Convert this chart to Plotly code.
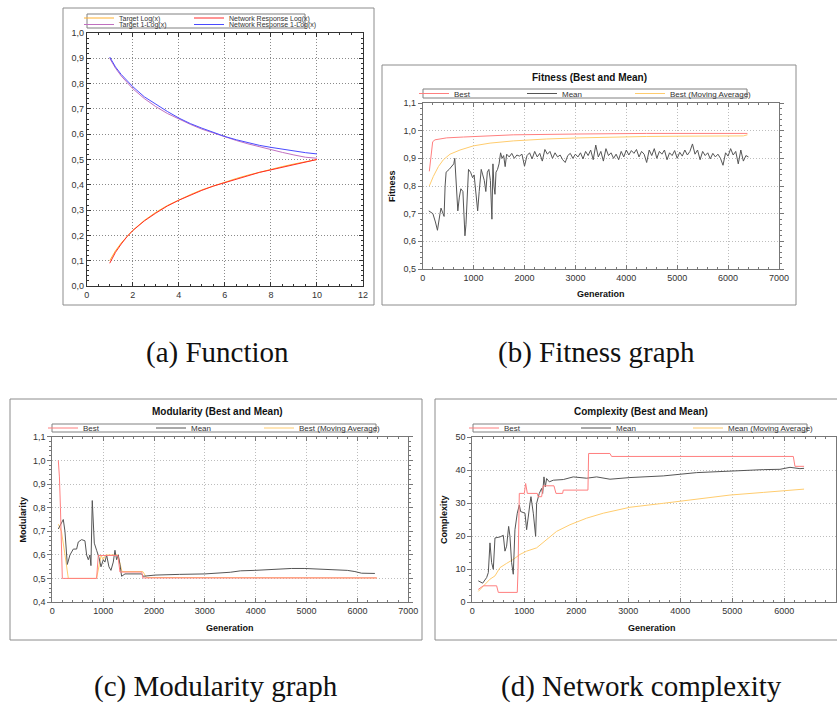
import plotly.graph_objects as go

# ---------------- data ----------------
# (a) Function
func_x = [1.0, 1.25, 1.5, 1.75, 2.0, 2.5, 3.0, 3.5, 4.0, 4.5, 5.0, 5.5, 6.0, 6.5, 7.0, 7.5, 8.0, 8.5, 9.0, 9.5, 10.0]
target_log = [0.100, 0.139, 0.170, 0.197, 0.220, 0.259, 0.291, 0.318, 0.341, 0.361, 0.380, 0.396, 0.411, 0.425, 0.438, 0.450, 0.461, 0.472, 0.482, 0.491, 0.500]
target_1mlog = [0.900, 0.861, 0.830, 0.803, 0.780, 0.741, 0.709, 0.682, 0.659, 0.639, 0.620, 0.604, 0.589, 0.575, 0.562, 0.550, 0.539, 0.528, 0.518, 0.509, 0.505]
net_log = [0.090, 0.133, 0.166, 0.195, 0.219, 0.257, 0.288, 0.316, 0.339, 0.360, 0.378, 0.395, 0.409, 0.423, 0.436, 0.449, 0.459, 0.469, 0.479, 0.490, 0.500]
net_1mlog = [0.905, 0.866, 0.836, 0.810, 0.788, 0.748, 0.718, 0.690, 0.664, 0.642, 0.624, 0.607, 0.591, 0.578, 0.566, 0.556, 0.548, 0.540, 0.533, 0.527, 0.522]

# (b) Fitness
fit_best_gen = [130, 157, 196, 242, 471, 800, 1126, 1781, 3091, 4400, 6380]
fit_best = [0.853, 0.900, 0.960, 0.967, 0.974, 0.977, 0.980, 0.985, 0.988, 0.990, 0.990]
fit_ma_gen = [130, 210, 308, 406, 537, 733, 995, 1323, 1781, 2436, 3091, 3745, 4400, 5055, 5710, 6299, 6380]
fit_ma = [0.800, 0.835, 0.870, 0.895, 0.915, 0.930, 0.945, 0.955, 0.963, 0.970, 0.974, 0.977, 0.979, 0.980, 0.981, 0.981, 0.985]
fit_mean_gen = [120, 200, 250, 290, 340, 360, 400, 420, 440, 460, 520, 580, 610, 630, 660, 690, 720, 750,
                790, 810, 830, 850, 880, 900, 940, 980, 1010, 1040, 1080, 1110, 1150, 1180, 1210, 1240,
                1270, 1300, 1330, 1360, 1380, 1400, 1420, 1440, 1470, 1500, 1530, 1560, 1590, 1620,
                1650, 1700, 1750, 1800, 1850, 1900, 1950, 2000, 2050, 2100, 2150, 2200, 2250, 2300,
                2350, 2400, 2450, 2500, 2550, 2600, 2650, 2700, 2750, 2800, 2850, 2900, 2950, 3000,
                3050, 3100, 3150, 3200, 3250, 3300, 3350, 3400, 3450, 3500, 3550, 3600, 3650, 3700,
                3750, 3800, 3850, 3900, 3950, 4000, 4050, 4100, 4150, 4200, 4250, 4300, 4350, 4400,
                4450, 4500, 4550, 4600, 4650, 4700, 4750, 4800, 4850, 4900, 4950, 5000, 5050, 5100,
                5150, 5200, 5250, 5300, 5350, 5400, 5450, 5500, 5550, 5600, 5650, 5700, 5750, 5800,
                5850, 5900, 5950, 6000, 6050, 6100, 6150, 6200, 6250, 6300, 6350, 6400]
fit_mean = [0.710, 0.700, 0.670, 0.640, 0.700, 0.720, 0.700, 0.690, 0.800, 0.850, 0.860, 0.875, 0.880, 0.900,
            0.800, 0.710, 0.760, 0.790, 0.780, 0.700, 0.620, 0.660, 0.800, 0.860, 0.850, 0.830, 0.840,
            0.780, 0.710, 0.780, 0.860, 0.840, 0.820, 0.780, 0.850, 0.860, 0.820, 0.680, 0.880, 0.800,
            0.770, 0.850, 0.860, 0.880, 0.920, 0.900, 0.910, 0.870,
            0.915, 0.905, 0.918, 0.900, 0.912, 0.908, 0.915, 0.872, 0.910, 0.920, 0.898, 0.925, 0.905, 0.918,
            0.890, 0.932, 0.915, 0.925, 0.900, 0.920, 0.905, 0.912, 0.895, 0.885, 0.910, 0.918, 0.900, 0.915,
            0.905, 0.920, 0.898, 0.925, 0.910, 0.930, 0.895, 0.948, 0.905, 0.925, 0.890, 0.935, 0.910, 0.920,
            0.900, 0.915, 0.895, 0.925, 0.905, 0.930, 0.912, 0.928, 0.918, 0.932, 0.905, 0.925, 0.915, 0.885,
            0.930, 0.910, 0.935, 0.900, 0.925, 0.915, 0.930, 0.895, 0.920, 0.910, 0.928, 0.900, 0.922, 0.908,
            0.930, 0.912, 0.925, 0.952, 0.915, 0.930, 0.895, 0.925, 0.910, 0.920, 0.898, 0.918, 0.905, 0.915,
            0.900, 0.875, 0.920, 0.908, 0.935, 0.912, 0.925, 0.880, 0.930, 0.890, 0.910, 0.905]

# (c) Modularity
mod_best_gen = [118, 140, 160, 197, 871, 904, 1290, 1330, 1760, 1780, 6380]
mod_best = [1.000, 0.930, 0.800, 0.501, 0.501, 0.598, 0.598, 0.528, 0.528, 0.503, 0.503]
mod_ma_gen = [118, 180, 250, 315, 870, 920, 960, 1000, 1050, 1290, 1330, 1370, 1780, 1820, 1850, 6380]
mod_ma = [0.730, 0.700, 0.600, 0.501, 0.501, 0.560, 0.598, 0.580, 0.600, 0.600, 0.560, 0.530, 0.530, 0.512, 0.505, 0.503]
mod_mean_gen = [118, 183, 216, 249, 282, 295, 347, 413, 478, 511, 577, 642, 675, 708, 740, 760, 786, 826,
                871, 917, 957, 1003, 1035, 1068, 1114, 1153, 1199, 1232, 1265, 1297, 1330, 1363, 1429,
                1756, 1789, 2018, 2500, 3001, 3500, 3700, 3984, 4312, 4700, 4967, 5300, 5623, 5800, 5950,
                6081, 6343]
mod_mean = [0.710, 0.740, 0.750, 0.700, 0.600, 0.560, 0.600, 0.625, 0.625, 0.655, 0.665, 0.660, 0.600, 0.580,
            0.600, 0.555, 0.830, 0.650, 0.620, 0.590, 0.550, 0.580, 0.570, 0.600, 0.550, 0.535, 0.570,
            0.620, 0.580, 0.600, 0.560, 0.510, 0.520, 0.520, 0.510, 0.515, 0.518, 0.520, 0.527, 0.533,
            0.535, 0.540, 0.543, 0.543, 0.541, 0.537, 0.535, 0.530, 0.523, 0.522]

# (d) Complexity
cx_best_gen = [115, 212, 468, 500, 865, 880, 904, 1000, 1026, 1058, 1250, 1265, 1333, 1365, 1570, 1609, 1737,
               1750, 2224, 2237, 2647, 2679, 6173, 6205, 6380]
cx_best = [3.9, 5.0, 5.0, 3.0, 3.0, 10.0, 33.0, 33.0, 36.0, 33.0, 33.0, 32.0, 32.0, 35.3, 35.3, 33.0, 33.0,
           34.0, 34.0, 45.1, 45.1, 44.2, 44.2, 41.2, 41.2]
cx_mean_gen = [115, 199, 276, 308, 340, 372, 404, 436, 532, 596, 628, 660, 699, 724, 756, 788, 820, 865, 904,
               929, 1013, 1045, 1109, 1128, 1173, 1218, 1237, 1288, 1333, 1353, 1378, 1404, 1429, 1481,
               1558, 1750, 1942, 2199, 2391, 2647, 3032, 3673, 4314, 4955, 5596, 5917, 6109, 6301, 6380]
cx_mean = [6.5, 5.8, 7.5, 9.0, 18.0, 12.0, 10.0, 19.5, 19.8, 20.3, 15.5, 17.0, 23.0, 20.0, 12.0, 8.5, 22.0,
           27.0, 29.5, 27.5, 27.0, 22.0, 30.0, 32.0, 27.0, 20.0, 30.0, 33.0, 34.5, 33.0, 38.0, 35.0, 37.5,
           36.5, 37.0, 37.2, 38.0, 37.6, 38.0, 37.3, 37.8, 38.3, 39.3, 39.8, 40.2, 40.3, 40.9, 40.5, 40.6]
cx_ma_gen = [115, 212, 340, 436, 532, 660, 788, 917, 1045, 1237, 1429, 1622, 1878, 2199, 2519, 3032, 3673,
             4314, 4955, 5596, 6380]
cx_ma = [3.3, 5.0, 7.0, 8.0, 10.5, 11.8, 13.0, 14.5, 15.5, 16.5, 19.0, 21.5, 23.5, 25.5, 27.0, 28.8, 30.0,
         31.3, 32.5, 33.3, 34.3]

captions = ["(a) Function", "(b) Fitness graph", "(c) Modularity graph", "(d) Network complexity"]
titles = ["Fitness (Best and Mean)", "Modularity (Best and Mean)", "Complexity (Best and Mean)"]
x_titles = ["Generation", "Generation", "Generation"]
y_titles = ["Fitness", "Modularity", "Complexity"]

# ---------------- helpers ----------------
W, H = 837, 704


def fx(p):
    return p / W


def fy(p):
    return 1 - p / H


FONT = "Liberation Sans"
BEST_C = "#ff7f7f"
MEAN_C = "#555555"
MA_C = "#ffcc6e"

fig = go.Figure()


def line(x, y, name, color, xa, ya, legend, rank, lw=None):
    fig.add_trace(go.Scatter(x=x, y=y, name=name, mode="lines",
                             line=dict(color=color, width=1),
                             xaxis=xa, yaxis=ya, legend=legend, legendrank=rank,
                             legendwidth=lw, hoverinfo="skip"))


# (a)
line(func_x, target_log, "Target Log(x)", "#ffb02e", "x", "y", "legend", 1)
line(func_x, net_log, "Network Response Log(x)", "#ff2a2a", "x", "y", "legend", 2, 88)
line(func_x, target_1mlog, "Target 1-Log(x)", "#c070c0", "x", "y", "legend2", 1)
line(func_x, net_1mlog, "Network Response 1-Log(x)", "#4a4aff", "x", "y", "legend2", 2, 88)
# (b)
line(fit_ma_gen, fit_ma, "Best (Moving Average)", MA_C, "x2", "y2", "legend3", 3, 86)
line(fit_best_gen, fit_best, "Best", BEST_C, "x2", "y2", "legend3", 1)
line(fit_mean_gen, fit_mean, "Mean", MEAN_C, "x2", "y2", "legend3", 2)
# (c)
line(mod_ma_gen, mod_ma, "Best (Moving Average)", MA_C, "x3", "y3", "legend4", 3, 86)
line(mod_mean_gen, mod_mean, "Mean", MEAN_C, "x3", "y3", "legend4", 2)
line(mod_best_gen, mod_best, "Best", BEST_C, "x3", "y3", "legend4", 1)
# (d)
line(cx_ma_gen, cx_ma, "Mean (Moving Average)", MA_C, "x4", "y4", "legend5", 3, 88)
line(cx_mean_gen, cx_mean, "Mean", MEAN_C, "x4", "y4", "legend5", 2)
line(cx_best_gen, cx_best, "Best", BEST_C, "x4", "y4", "legend5", 1)


def axis(domain, anchor, rng, dtick, mdtick, fmt, linecolor, gridcolor, ticks):
    return dict(domain=domain, anchor=anchor, range=rng, dtick=dtick, tick0=0, tickformat=fmt,
                showline=True, linecolor=linecolor, linewidth=1, mirror="ticks",
                ticks=ticks, ticklen=4, tickcolor=linecolor,
                minor=dict(dtick=mdtick, ticks=ticks, ticklen=2, tickcolor=linecolor, showgrid=False),
                showgrid=True, gridcolor=gridcolor, griddash="1px,2px", gridwidth=1, zeroline=False,
                tickfont=dict(family=FONT, size=9, color="#333333"), fixedrange=True)


GRID_B = "#bdbdbd"
AX_B = "#777777"

layout = dict(
    width=W, height=H, margin=dict(l=0, r=0, t=0, b=0, autoexpand=False),
    paper_bgcolor="white", plot_bgcolor="white", separators=",.",
    showlegend=True,
    xaxis=axis([fx(86.7), fx(363)], "y", [0, 12], 2, 0.5, "d", "#333333", "#8a8a8a", "inside"),
    yaxis=axis([fy(286), fy(33)], "x", [0, 1], 0.1, 0.02, ".1f", "#333333", "#8a8a8a", "inside"),
    xaxis2=axis([fx(422.7), fx(779)], "y2", [0, 7000], 1000, 200, "d", AX_B, GRID_B, "inside"),
    yaxis2=axis([fy(269), fy(103)], "x2", [0.5, 1.1], 0.1, 0.02, ".1f", AX_B, GRID_B, "outside"),
    xaxis3=axis([fx(52.3), fx(408.3)], "y3", [0, 7000], 1000, 200, "d", AX_B, GRID_B, "inside"),
    yaxis3=axis([fy(602.3), fy(436.7)], "x3", [0.4, 1.1], 0.1, 0.02, ".1f", AX_B, GRID_B, "outside"),
    xaxis4=axis([fx(472.3), fx(836.3)], "y4", [0, 7000], 1000, 200, "d", AX_B, GRID_B, "inside"),
    yaxis4=axis([fy(602.3), fy(437.3)], "x4", [0, 50], 10, 2, "d", AX_B, GRID_B, "outside"),
)


def leg(x, y, size, ew):
    return dict(x=fx(x), y=fy(y), xanchor="left", yanchor="middle", orientation="h",
                bgcolor="rgba(0,0,0,0)", borderwidth=0, itemwidth=30,
                entrywidth=ew, entrywidthmode="pixels", tracegroupgap=0,
                font=dict(family=FONT, size=size, color="#333333"), itemclick=False, itemdoubleclick=False)


layout["legend"] = leg(79, 18, 7, 65)
layout["legend2"] = leg(79, 24.5, 7, 65)
layout["legend3"] = leg(414, 93.5, 8, 63)
layout["legend4"] = leg(43, 428, 8, 63)
layout["legend5"] = leg(464, 428, 8, 67)

shapes = []
# panel frames
for (x0, y0, x1, y1) in [(63, 8, 374, 305), (382, 65, 796, 305), (10, 399, 422, 640), (435, 399, 845, 640)]:
    shapes.append(dict(type="rect", xref="paper", yref="paper", x0=fx(x0), x1=fx(x1), y0=fy(y1), y1=fy(y0),
                       line=dict(color="#8c8c8c", width=1), fillcolor="rgba(0,0,0,0)", layer="below"))
# legend boxes
for (x0, y0, x1, y1) in [(87, 14, 305, 28), (423, 89, 747, 98), (52, 424, 376, 432), (473, 424, 807, 432)]:
    shapes.append(dict(type="rect", xref="paper", yref="paper", x0=fx(x0), x1=fx(x1), y0=fy(y1), y1=fy(y0),
                       line=dict(color="#808080", width=1), fillcolor="white", layer="above"))
layout["shapes"] = shapes

ann = []
for text, (cx, cy) in zip(titles, [(589, 77), (218, 411), (641, 411)]):
    ann.append(dict(text="<b>" + text + "</b>", x=fx(cx), y=fy(cy), xref="paper", yref="paper",
                    showarrow=False, xanchor="center", yanchor="middle",
                    font=dict(family=FONT, size=10, color="#111111")))
for text, (cx, cy) in zip(x_titles, [(601, 294), (230, 628), (652, 628)]):
    ann.append(dict(text="<b>" + text + "</b>", x=fx(cx), y=fy(cy), xref="paper", yref="paper",
                    showarrow=False, xanchor="center", yanchor="middle",
                    font=dict(family=FONT, size=9, color="#111111")))
for text, (cx, cy) in zip(y_titles, [(392, 186), (22, 519.5), (444, 520)]):
    ann.append(dict(text="<b>" + text + "</b>", x=fx(cx), y=fy(cy), xref="paper", yref="paper",
                    showarrow=False, xanchor="center", yanchor="middle", textangle=-90,
                    font=dict(family=FONT, size=9, color="#111111")))
for text, (cx, cy) in zip(captions, [(218, 352), (596, 352), (216, 686), (641, 686)]):
    ann.append(dict(text=text, x=fx(cx), y=fy(cy), xref="paper", yref="paper",
                    showarrow=False, xanchor="center", yanchor="middle",
                    font=dict(family="Liberation Serif", size=29, color="#111111")))
layout["annotations"] = ann

fig.update_layout(**layout)
fig.write_html("out.html", config={"displayModeBar": False},
               post_script="document.body.style.margin='0px';")
